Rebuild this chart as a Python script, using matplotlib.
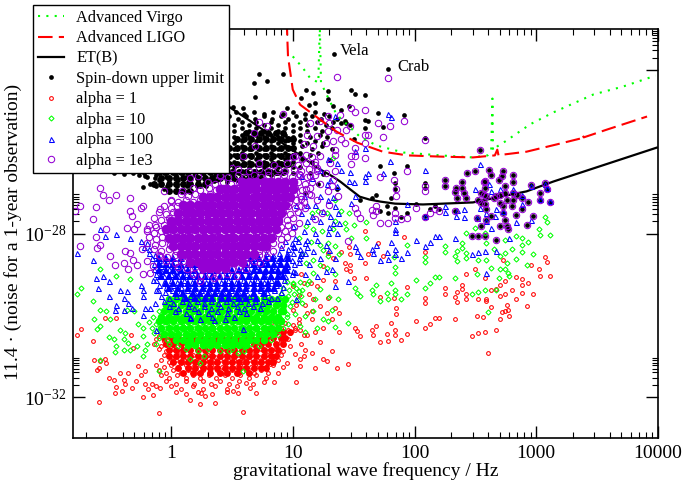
import matplotlib
matplotlib.use("Agg")
import matplotlib.pyplot as plt
from matplotlib.lines import Line2D
from matplotlib.ticker import FixedLocator, NullFormatter

plt.rcParams['font.family'] = ['Liberation Serif', 'DejaVu Serif']
plt.rcParams['mathtext.default'] = 'regular'

# All values are log10(frequency / Hz) and log10(amplitude).
# Dense clouds are stored as rows: (log10 h, [100*log10 f, ...]).
# The *_core rows stand for the parts of a cloud where the marks overlap into a solid area.
virgo = [(1.00,-23.67),(1.08,-23.94),(1.14,-24.19),(1.21,-24.31),(1.222,-22.9),(1.232,-24.31),(1.25,-24.43),(1.31,-24.8),(1.36,-25.09),(1.55,-25.63),(1.69,-25.85),(1.91,-26.02),(2.21,-26.09),(2.48,-26.14),(2.6,-26.09),(2.63,-25.97),(2.64,-24.7),(2.645,-25.97),(2.68,-25.87),(2.73,-25.78),(2.95,-25.33),(3.14,-25.04),(3.47,-24.6),(3.71,-24.41),(3.98,-24.14)]
ligo = [(.95,-22.8),(.961,-23.67),(1.00,-24.48),(1.06,-24.85),(1.20,-25.16),(1.36,-25.51),(1.53,-25.78),(1.74,-26.0),(1.94,-26.09),(2.21,-26.12),(2.48,-26.14),(2.66,-26.09),(2.68,-25.95),(2.69,-26.09),(2.73,-26.07),(2.92,-26.0),(3.17,-25.82),(3.36,-25.68),(3.38,-25.58),(3.39,-25.65),(3.58,-25.46),(3.91,-25.14)]
et = [(.16,-24.2),(.485,-24.92),(.632,-25.21),(.895,-25.75),(1.06,-26.09),(1.20,-26.39),(1.33,-26.61),(1.39,-26.73),(1.45,-26.87),(1.55,-27.1),(1.63,-27.17),(1.72,-27.22),(1.84,-27.27),(2.07,-27.29),(2.48,-27.24),(2.92,-26.97),(3.14,-26.73),(3.99,-25.9)]

msp = [(2.54,-25.95),(2.43,-26.53),(2.50,-26.48),(2.61,-26.45),(2.63,-26.58),(2.73,-26.48),(2.81,-26.56),(2.72,-26.60),(2.69,-26.68),(2.58,-26.72),(2.57,-26.75),(2.74,-26.84),(2.81,-26.74),(2.25,-26.70),(2.25,-26.84),(2.39,-26.75),(2.34,-26.88),(2.39,-26.88),(2.33,-26.99),(2.41,-27.01),(2.35,-27.14),(2.42,-27.13),(2.58,-26.88),(2.57,-27.05),(2.55,-27.01),(2.59,-27.09),(2.67,-27.09),(2.70,-27.05),(2.74,-27.01),(2.81,-27.01),(2.84,-27.05),(2.76,-27.17),(2.70,-27.25),(2.73,-27.33),(2.81,-27.17),(2.88,-27.13),(2.93,-27.23),(2.96,-26.82),(3.03,-27.01),(3.03,-27.17),(3.07,-26.76),(3.09,-26.91),(3.11,-27.23),(2.52,-27.17),(2.55,-27.25),(2.58,-27.29),(2.59,-27.41),(2.65,-27.13),(2.73,-27.49),(2.80,-27.32),(2.88,-27.41),(2.83,-27.54),(2.97,-27.58),(2.63,-27.56),(2.51,-27.63),(2.55,-27.82),(2.59,-27.66),(2.74,-27.66),(2.76,-27.82),(2.77,-27.90),(2.70,-27.82),(2.92,-27.80),(2.47,-28.07),(2.52,-28.05),(2.58,-28.07),(2.67,-28.15)]

black_sparse = [(1.34,-23.62),(1.78,-23.97),(.72,-24.11),(.79,-24.26),(.68,-24.32),(.92,-24.11),(.69,-24.66),(1.07,-24.68),(1.11,-24.48),(1.17,-24.56),(1.29,-24.52),(1.13,-24.85),(1.18,-24.8),(1.29,-24.72),(1.33,-24.89),(.51,-24.9),(.59,-24.93),(.95,-24.93),
(1.48,-24.48),(1.51,-24.6),(1.59,-24.62),(1.40,-24.97),(1.46,-24.89),(1.59,-25.23),(1.62,-25.25),(1.70,-25.05),(1.74,-25.39),(1.91,-25.11),(1.59,-25.42),(2.09,-25.66),(1.94,-26.34),(1.72,-26.35),(1.83,-26.52),(1.84,-26.76),(1.84,-26.92),(2.09,-26.76),(2.09,-26.88),(1.68,-27.05),(1.65,-27.13),(1.55,-27.17),(2.01,-27.27),(1.94,-27.5),(1.89,-27.59),(1.84,-27.37),(1.81,-27.13),(1.77,-27.33),(1.72,-27.45),(1.78,-27.5),(2.17,-27.33),(2.2,-27.4),(2.13,-27.41),(2.09,-27.58),(2.33,-27.45),(1.44,-25.3),(1.47,-25.34),(1.5,-25.7),(1.43,-25.25),(1.40,-25.3),
(-.47,-26.53),(-.39,-26.55),(-.31,-26.53),(-.21,-26.6),(-.13,-26.64),(-.23,-26.87),(-.17,-26.8),(-.12,-26.84),(-.06,-26.92),(-.02,-26.97),(.1,-26.93),(.24,-26.84),(.35,-26.72),(1.25,-26.55),(1.21,-26.8),(1.31,-26.2),(1.36,-26.9),(1.1,-27.0)]
black_rows = [
(-25.02,[53,68,84,100,118]),(-25.08,[60,76,92,110,126]),
(-25.13,[48,62,76,90,103,116,130]),(-25.19,[55,69,83,96,110,123,136]),
(-25.28,[46,58,70,82,94,106,120,133]),(-25.34,[52,64,76,88,100,112,127]),
(-25.43,[46,58,70,82,94,106,118,132]),(-25.49,[52,64,76,88,100,112,124]),
(-25.58,[46,58,70,82,94,106,122]),(-25.64,[52,64,76,88,100,114,128]),
(-25.73,[46,58,70,82,94,106,118]),(-25.79,[52,64,76,88,100,112,125]),
(-25.87,[46,58,70,82,94,108,124]),(-25.94,[52,64,76,88,100,116,132]),
(-26.02,[46,58,70,82,94,106,121]),(-26.08,[52,64,76,88,100,114]),
(-26.18,[46,58,70,82,94,108]),(-26.24,[52,64,76,88,100,116]),
(-26.33,[46,58,70,82,94]),(-26.38,[52,64,76,88,100,106]),
(-26.47,[-30,-14,2,18,34,46,58,70,82,94]),(-26.53,[-22,-6,10,26,40,52,64,76,88,100,114]),
(-26.58,[-26,-12,4,20,36,50,66,82]),(-26.63,[-20,-4,12,28,42,58,74]),
(-26.7,[-10,6,22,38,54]),(-26.75,[-2,14,30,46]),
(-26.85,[-3,5,13,21,29]),(-26.95,[6,14])]
black_core = [
(-25.55,[62,68,74,80,86,92]),
(-25.7,[54,60,66,72,78,84,90,96,100]),(-25.9,[48,54,60,66,72,78,84,90,96,100]),
(-26.1,[48,54,60,66,72,78,84,90,96,100]),(-26.3,[48,54,60,66,72,78,84,90,96]),
(-26.5,[-10,-4,2,8,14,20,26,32,38,44,50,56,62,68,74,80,86,92]),
(-26.65,[-8,-2,4,10,16,22,28,34,40,46,52,58,64,70]),
(-26.8,[-14,-8,-2,4,10,16,22,28]),(-26.95,[-2,4,10,16])]

red_sparse = [(3.07,-28.58),(3.09,-28.7),(3.02,-28.88),(3.03,-29.03),(3.11,-29.03),(2.96,-28.76),(2.93,-29.21),(2.88,-29.11),(2.88,-29.27),(2.88,-29.45),(2.97,-29.49),(2.92,-29.78),(2.80,-29.37),(2.83,-29.6),(2.83,-29.06),(2.74,-29.17),(2.74,-29.49),(2.70,-29.27),(2.70,-29.53),(2.63,-29.37),(2.67,-29.35),(2.76,-29.74),(2.74,-29.9),(2.77,-29.86),(2.78,-30.02),(2.72,-29.92),(2.70,-30.09),(2.63,-29.8),(2.59,-29.6),(2.59,-29.66),(2.52,-29.6),(2.50,-28.88),(2.42,-28.99),(2.39,-29.25),(2.39,-29.35),(2.42,-29.48),(2.42,-29.59),(2.35,-29.43),(2.33,-29.55),(2.35,-29.67),(2.25,-29.33),(2.25,-29.47),(2.09,-29.57),(2.09,-29.7),(1.94,-29.31),(1.83,-29.58),(1.85,-29.82),(1.85,-29.97),(2.01,-30.15),(2.13,-30.21),(2.17,-30.06),(2.20,-30.07),(2.33,-30.1),(2.09,-30.32),(1.94,-30.46),(1.89,-30.61),(1.84,-30.37),(1.84,-30.47),(1.81,-30.2),(1.77,-30.45),(1.78,-30.63),(1.72,-30.66),(1.68,-30.27),(1.65,-30.37),(1.66,-30.49),(1.55,-30.51),(1.51,-30.31),(1.53,-30.39),(1.45,-31.19),(2.47,-30.5),(2.52,-30.43),(2.58,-30.4),(2.67,-30.37),(2.60,-30.92),(2.51,-30.01),(2.56,-30.04),(1.91,-28.09),(1.59,-27.93),(1.70,-28.23),(1.74,-28.55),(1.60,-29.1),(1.72,-29.55),(1.50,-29.1),(1.43,-28.72),(1.47,-28.76),(1.40,-28.46),(1.46,-28.33),(1.47,-28.5),(1.44,-28.88),(1.47,-28.92),(1.59,-28.72),(1.62,-28.51),(2.09,-28.46),(2.58,-29.08),(2.73,-28.64),
(1.33,-28.6),(1.29,-28.47),(1.09,-29.21),(1.0,-29.29),(1.2,-29.29),(1.25,-29.13),(1.13,-29.49),(1.17,-29.61),(1.22,-29.78),(1.29,-29.57),(1.1,-29.74),(1.16,-29.9),(1.0,-29.86),(1.03,-29.74),(1.05,-30.1),(1.16,-30.1),(1.09,-30.47),(1.12,-30.49),(1.32,-30.88),(1.25,-31.08),(1.28,-31.12),(1.36,-31.28),(1.09,-31),(1.16,-30.92),(1.06,-31.08),(1.06,-31.24),(1.03,-31.63),(1.35,-29.82),
(1.05,-29.5),(1.12,-29.95),(1.02,-30.35),(1.07,-30.7),(1.18,-30.4),(1.25,-30.3),(1.32,-30.1),(1.22,-30.65),(1.38,-29.95),(1.28,-29.95),(1.38,-30.4),(1.15,-29.2),(1.35,-29.15),(1.07,-29.0),(1.25,-28.8),(1.18,-31.3),(1.02,-30.95),(1.1,-30.85),
(-.77,-30.49),(-.74,-30.33),(-.64,-30.63),(-.63,-31.1),(-.58,-31.12),(-.54,-31.08),(-.53,-31.16),(-.59,-31.28),(-.61,-31.34),(-.45,-30.06),(-.54,-30.06),(-.33,-30.47),(-.51,-31.53),(-.47,-31.59),(-.42,-31.41),(-.35,-31.42),(-.39,-31.57),(-.38,-31.69),(-.29,-31.61),(-.32,-31.77),(-.45,-31.75),(-.46,-31.9),(-.4,-31.85),(-.59,-32.12),(-.27,-31.23),(-.25,-31.45),(-.21,-31.37),(-.21,-31.69),(-.23,-32),(-.16,-31.69),(-.19,-31.81),(-.12,-31.73),(-.09,-31.77),(-.15,-31.94),(-.1,-32.38),(.59,-32.36),(.16,-32.08),(.24,-32.16),(.25,-31.91),(.28,-31.98),(.36,-32.14),(.46,-31.88),(.51,-31.85),(.55,-31.9),(.7,-31.9),(.65,-31.77),(.62,-31.65),(.76,-31.63),(.85,-31.64),(.88,-31.41),(.81,-31.2),(.95,-31.16),(-.31,-30.8)]
red_rows = [
(-30.18,[82,94,105]),(-30.24,[88,100]),
(-30.31,[78,90,102]),(-30.37,[84,96,106]),
(-30.44,[74,86,98]),(-30.5,[-10,80,92]),
(-30.57,[-12,72,84,96]),(-30.63,[-6,78,90]),
(-30.7,[-14,-2,68,80,92]),(-30.75,[-8,74,86,98]),
(-30.83,[-10,2,14,62,74,86]),(-30.88,[-4,8,68,80,92]),
(-30.96,[-6,6,18,30,42,54,66,78,90]),(-31.01,[0,12,24,36,48,60,72,84]),
(-31.09,[-8,4,16,28,40,52,64,76,88]),(-31.14,[-2,10,22,34,46,58,70,82]),
(-31.21,[-12,0,12,24,36,48,60,72,84]),(-31.27,[-6,6,18,30,42,54,66,78,92]),
(-31.34,[-10,2,14,26,38,50,62,74]),(-31.4,[-4,8,20,32,44,56,68,80]),
(-31.46,[-8,5,18,31,44,57,70]),(-31.54,[-2,12,24,37,50,64,78]),
(-31.6,[-4,12,26,40,56]),(-31.67,[4,19,33,48,67]),
(-31.73,[0,18,36,54]),(-31.8,[8,26,46]),
(-31.87,[4,22]),(-31.92,[12,34])]
red_core = [
(-30.4,[80,86,92,98]),
(-30.55,[-6,0,6,12,18,24,30,36,42,48,54,60,66,72,78,84,90,94]),
(-30.7,[-4,2,8,14,20,26,32,38,44,50,56,62,68,74,80,86,92]),
(-30.85,[-2,4,10,16,22,28,34,40,46,52,58,64,70,76,82,88]),
(-31.0,[-2,4,10,16,22,28,34,40,46,52,58,64,70,76,82,86]),
(-31.15,[2,8,14,20,26,32,38,44,50,56,62,68,74,80,84]),
(-31.28,[6,14,20,26,32,38,44,50,56,62,68,74,78]),
(-31.42,[10,18,24,32,40,46,54,64])]

green_sparse = [(3.07,-27.59),(3.09,-27.72),(3.02,-27.89),(3.03,-28.03),(3.11,-28.03),(2.93,-28.2),(2.88,-28.11),(2.88,-28.27),(2.88,-28.45),(2.97,-28.5),(2.92,-28.78),(2.80,-28.39),(2.83,-28.62),(2.83,-28.07),(2.74,-28.15),(2.74,-28.47),(2.70,-28.56),(2.76,-28.72),(2.74,-28.88),(2.77,-28.96),(2.78,-29.04),(2.70,-28.88),(2.63,-28.84),(2.69,-29.08),(2.65,-28.39),(2.59,-28.23),(2.58,-27.98),(2.50,-27.86),(2.42,-27.98),(2.39,-28.23),(2.39,-28.35),(2.42,-28.47),(2.42,-28.6),(2.35,-28.42),(2.33,-28.55),(2.35,-28.68),(2.25,-28.31),(2.25,-28.46),(2.09,-28.57),(2.09,-28.69),(1.94,-28.29),(1.83,-28.57),(1.84,-28.82),(1.84,-28.96),(2.01,-29.14),(2.13,-29.21),(2.17,-29.06),(2.20,-29.07),(2.33,-29.1),(2.09,-29.33),(1.94,-29.47),(1.89,-29.6),(1.84,-29.37),(1.84,-29.48),(1.81,-29.21),(1.77,-29.45),(1.78,-29.61),(1.72,-29.65),(1.68,-29.26),(1.65,-29.37),(1.66,-29.48),(1.55,-29.53),(1.51,-29.33),(1.53,-29.45),(1.45,-30.19),(2.47,-29.49),(2.52,-29.44),(2.58,-29.39),(2.67,-29.37),(2.60,-29.92),(2.51,-29.0),(2.52,-28.64),(2.59,-28.64),(1.60,-27.72),(1.60,-28.11),(1.50,-27.78),(1.43,-27.74),(1.46,-27.5),(1.40,-27.45),(1.48,-28.11),(1.44,-27.9),
(-.77,-29.49),(-.74,-29.33),(-.64,-29.64),(-.63,-30.09),(-.58,-29.87),(-.53,-29.9),(-.58,-30.25),(-.61,-30.33),(-.5,-30.1),(-.45,-29.04),(-.58,-28.88),(-.34,-29.12),(-.36,-29.86),(-.3,-29.9),(-.27,-30.22),(-.42,-30.35),(-.38,-30.43),(-.51,-30.53),(-.47,-30.57),(-.39,-30.59),(-.45,-30.75),(-.46,-30.89),(-.39,-30.84),(-.35,-30.67),(-.28,-30.75),(-.34,-30.84),(-.58,-31.1),(-.23,-31),(-.2,-30.71),(-.21,-30.84),(-.12,-30.71),(-.1,-31.37),(.24,-31.16),(.16,-31.08),(.27,-31),(.36,-30.71),(.48,-30.88),(.59,-31.37),(.55,-30.92),(-.23,-30.31),(-.23,-30.51),
(1.05,-28.1),(1.15,-28.2),(1.25,-28.4),(1.38,-28.5),(1.08,-28.5),(1.28,-28.85),(1.35,-29.0),(1.05,-29.4),(1.13,-29.15),(1.22,-29.35),(1.3,-29.55),(1.08,-29.7),(1.18,-29.6),(1.37,-29.6),(1.1,-30.4),(1.2,-30.3),
(1.32,-29.87),(1.25,-30.09),(1.35,-30.28),(1.29,-30.14),(1.06,-30.25),(1.1,-30.02),(1.02,-29.98),(1.17,-29.9),(1.35,-28.31),(1.22,-28.27),(1.29,-28.23),(1.17,-28.64),(1.11,-28.72),(1.22,-28.76),(1.17,-28.96),(1.0,-29.21),(1.29,-28.55),(1.21,-27.45),(1.16,-27.49),(1.11,-27.82),(1.17,-27.9),(1.24,-27.94),(1.33,-27.9),(1.35,-27.7),(1.33,-26.15),(1.35,-27.17),(1.28,-27.49)]
green_rows = [
(-29.18,[95,106]),(-29.23,[100,112]),
(-29.33,[92,103]),(-29.38,[97,108]),
(-29.48,[90,101]),(-29.53,[96,107]),
(-29.63,[82,93,104]),(-29.68,[88,99]),
(-29.78,[76,87,98]),(-29.83,[81,92]),
(-29.9,[-10,70,80,90]),(-29.96,[75,85,95]),
(-30.04,[-15,-3,9,62,73,84,95]),(-30.09,[-9,3,56,68,78,90]),
(-30.17,[-18,-6,6,18,30,42,54,66,78,90]),(-30.22,[-12,0,12,24,36,48,60,72,84,96]),
(-30.3,[-16,-4,8,20,32,44,56,68,80,92]),(-30.35,[-10,2,14,26,38,50,62,74,86]),
(-30.43,[-14,-2,10,22,34,46,58,70,82]),(-30.48,[-8,4,16,28,40,52,64,76,88]),
(-30.56,[-10,4,16,28,40,52,64,76]),(-30.61,[-3,10,22,34,46,58,70,82]),
(-30.69,[-2,14,27,40,53,66]),(-30.74,[6,20,33,46,59,72]),
(-30.82,[12,30,50]),(-30.87,[22,40,60])]
green_core = [
(-29.6,[-2,4,10,16,22,28,34,40,46,52,58,64,70,76,82,88,94]),
(-29.75,[-4,2,8,14,20,26,32,38,44,50,56,62,68,74,80,86,92]),
(-29.9,[-6,0,6,12,18,24,30,36,42,48,54,60,66,72,78,84,90,92]),
(-30.03,[-8,-2,4,10,16,22,28,34,40,46,52,58,64,70,76,82,88]),
(-30.15,[-10,-4,2,8,14,20,26,32,38,44,50,56,62,68,74,80,86,90]),
(-30.3,[-8,-2,4,10,16,22,28,34,40,46,52,58,64,70,76,82,88]),
(-30.45,[-6,0,6,12,18,24,30,36,42,48,54,60,66,72,78,84]),
(-30.6,[4,10,16,22,28,34,40,46,52,58,64,70,76]),
(-30.72,[14,20,26,32,38,44,50,56,62])]

blue_sparse = [(2.54,-26.31),(2.50,-26.90),(2.61,-26.78),(2.63,-26.97),(2.70,-26.92),(2.81,-26.91),(2.88,-27.29),(2.96,-27.66),(3.03,-27.15),(3.09,-26.88),(3.11,-27.21),(2.96,-26.85),(3.07,-26.8),(2.67,-27.41),(2.59,-27.49),(2.54,-27.37),(2.66,-27.58),(2.51,-27.62),(2.59,-27.70),(2.63,-27.86),(2.73,-27.45),(2.83,-27.72),(2.88,-27.05),(2.34,-27.56),(2.35,-27.43),(2.41,-27.41),(2.41,-27.59),(2.25,-27.33),(2.25,-27.48),(1.94,-27.29),(1.80,-26.23),(1.78,-25.07),(1.81,-25.15),(2.09,-26.45),(1.59,-26.6),(1.62,-26.52),(1.59,-26.72),(1.74,-26.52),(1.40,-26.45),(1.47,-26.5),(1.46,-26.72),(1.50,-26.75),(1.51,-25.99),(1.59,-25.9),(2.09,-27.58),(1.84,-27.90),(1.84,-27.7),(1.51,-27.09),(1.48,-27.25),
(2.01,-28.15),(2.17,-28.05),(2.20,-28.05),(2.33,-28.11),(2.13,-28.2),(2.09,-28.31),(1.94,-28.46),(1.89,-28.6),(1.84,-28.39),(1.84,-28.49),(1.81,-28.2),(1.77,-28.46),(1.78,-28.62),(1.72,-28.64),(1.68,-28.27),(1.65,-28.38),(1.66,-28.47),(1.55,-28.55),(1.51,-28.31),(1.53,-28.43),(1.45,-29.17),(2.47,-28.51),(2.52,-28.46),(2.58,-28.43),(2.67,-28.43),(2.78,-28.11),(2.59,-28.96),(1.84,-27.97),
(-.77,-28.47),(-.64,-28.64),(-.62,-29.08),(-.6,-29.33),(-.56,-29.04),(-.51,-29.17),(-.42,-29.37),(-.36,-29.41),(-.51,-29.53),(-.39,-29.57),(-.45,-29.74),(-.46,-29.88),(-.39,-29.86),(-.35,-29.7),(-.32,-29.82),(-.23,-29.37),(-.25,-29.25),(-.23,-29.53),(-.21,-29.82),(-.23,-30),(-.13,-29.7),(-.17,-29.82),(-.12,-29.37),(-.145,-29.13),(-.12,-30.36),(.16,-30.06),(.35,-30.12),(.59,-30.33),(1.03,-29.61),(1.35,-29.29),(-.58,-27.89),(-.45,-28.02),(-.34,-28.1),(-.54,-28.05),
(1.03,-27.3),(1.12,-27.3),(1.18,-27.3),(1.25,-27.45),(1.33,-27.1),(1.12,-27.7),(1.02,-28.1),(1.12,-28.15),(1.2,-28.15),(1.3,-28.4),(1.05,-28.7),(1.13,-28.75),(1.22,-28.6),(1.02,-28.95),(1.1,-29),(1.2,-29.05),(1.35,-28.6),(1.3,-27.85),(1.38,-27.75),
(1.35,-25.13),(1.29,-26.17),(1.36,-26.27),(1.22,-26.44),(1.16,-26.64),(1.31,-26.68),(1.36,-26.84),(1.28,-26.8),(1.07,-26.6),(1.0,-26.92),(1.09,-27.09),(1.22,-27.09),(1.29,-27.17),(1.35,-27.33),(1.07,-27.5),(1.16,-27.58),(1.22,-27.7),(1.31,-27.58),(1.37,-27.5),(1.0,-27.82),(1.09,-27.94),(1.18,-27.98),(1.33,-27.74),(1.29,-27.98),(1.36,-27.98),(1.1,-28.47),(1.07,-28.47),(1.17,-28.43),(1.27,-28.27),(1.32,-28.88),(1.27,-28.92),(1.0,-28.31),(.95,-28.47)]
blue_rows = [
(-28.18,[-25,94,104]),(-28.23,[-20,99,110]),
(-28.33,[-22,90,101,112]),(-28.38,[-18,96,106]),
(-28.48,[-18,78,89,100]),(-28.53,[-13,84,95,106]),
(-28.6,[-16,-5,70,82,94,105]),(-28.66,[-10,76,88,99]),
(-28.74,[-14,-2,65,77,89,101]),(-28.79,[-8,4,71,83,95]),
(-28.87,[-14,-2,10,58,70,82,94]),(-28.92,[-8,4,64,76,88,100]),
(-29.0,[-12,0,12,52,64,76,88,99]),(-29.05,[-6,6,18,58,70,82,94]),
(-29.13,[-12,0,11,23,35,47,59,71,82,93]),(-29.18,[-6,5,17,29,41,53,65,76,88]),
(-29.26,[-10,2,14,26,38,50,62,74,86]),(-29.31,[-4,8,20,32,44,56,68,80,92]),
(-29.39,[-11,1,13,25,37,49,61,73,85]),(-29.44,[-5,7,19,31,43,55,67,79,90]),
(-29.52,[-8,4,16,28,40,52,64,76]),(-29.57,[-2,10,22,34,46,58,70,82,87]),
(-29.65,[-6,9,21,33,45,57,69,80]),(-29.7,[2,15,27,39,51,63,75]),
(-29.78,[-2,14,27,40,54,67]),(-29.83,[6,19,33,47,60,73]),
(-29.9,[3,22,38,56]),(-29.95,[12,30,46,62]),
(-30.03,[16,34,52]),(-30.08,[24,44])]
blue_core = [
(-28.6,[-10,-4,2,8,66,72,78,84,90,96]),
(-28.75,[-10,-4,2,8,14,20,62,68,75,80,85,90,95]),
(-28.9,[-10,-4,2,8,14,20,26,32,38,44,50,56,62,68,73,78,83,88,93,95]),
(-29.05,[-8,-2,4,10,16,22,28,34,40,46,52,58,64,70,76,82,88,92]),
(-29.2,[-4,2,8,14,20,26,32,38,44,50,56,62,68,74,80,86,88]),
(-29.33,[-2,6,14,20,26,32,38,44,50,56,62,68,74,80,85]),
(-29.45,[4,10,18,24,30,36,42,48,54,60,68,76]),
(-29.58,[12,20,28,34,42,48,56,62,70])]

purple_sparse = [(1.78,-24.2),(1.36,-24.17),(1.48,-24.93),(1.51,-25.03),(1.59,-24.97),(1.70,-25.31),(1.80,-25.36),(1.91,-25.25),(1.62,-25.58),(1.59,-25.58),(1.74,-25.64),(2.09,-25.72),(1.94,-26.48),(1.72,-26.62),(1.83,-26.7),(1.85,-26.92),(2.09,-26.84),(2.09,-26.96),(1.85,-27.09),(2.01,-27.37),(1.94,-27.63),(1.89,-27.64),(1.84,-27.5),(1.84,-27.62),(1.68,-27.32),(1.68,-27.45),(1.65,-27.43),(1.72,-27.74),(1.78,-27.74),(1.66,-27.54),(1.55,-27.62),(1.51,-27.37),(1.53,-27.49),(2.13,-27.5),(2.17,-27.4),(2.2,-27.44),(2.09,-27.59),(2.33,-27.45),(1.47,-25.38),(1.44,-25.46),(1.40,-25.7),(1.43,-25.78),(1.51,-25.9),(1.48,-26.11),(1.51,-26.11),(1.48,-26.3),(1.59,-25.78),(1.59,-26.15),(1.45,-28.19),
(.92,-25.07),(.72,-25.28),(.79,-25.36),(.68,-25.54),(.69,-25.87),(.59,-26.11),(.50,-26.4),(.40,-26.6),(.22,-26.6),(.16,-26.64),(-.58,-26.88),(-.56,-27.07),(-.51,-27.19),(-.45,-27.05),(-.34,-27.13),(-.23,-27.32),(-.25,-27.37),(-.75,-27.33),(-.79,-27.45),(-.62,-27.35),(-.64,-27.64),(-.34,-27.45),(-.32,-27.58),(-.36,-27.86),(-.28,-27.76),(-.30,-27.9),(-.2,-27.9),(-.13,-27.78),(-.53,-27.9),(-.62,-28.08),(0,-27.21),(-.06,-26.97),(.09,-26.97),(-.09,-27.41),
(-.75,-28.31),(-.58,-28.27),(-.61,-28.35),(-.5,-28.55),(-.46,-28.76),(-.39,-28.72),(-.38,-28.43),(-.34,-28.47),(-.28,-28.76),(-.31,-28.64),(-.23,-29),(-.17,-28.96),(-.145,-28.8),(-.24,-28.39),(-.2,-28.68),(-.09,-28.55),(-.35,-28.88),(.35,-29.1),(.24,-29.17),
(1.02,-26.1),(1.05,-26.55),(1.12,-25.6),(1.18,-26.25),(1.3,-25.3),(1.32,-26.85),(1.07,-27.15),(1.15,-27.05),(1.3,-27.3),(1.18,-27.65),(1.05,-27.75),(1.35,-25.95),(1.39,-25.1),
(1.29,-25.13),(1.22,-25.25),(1.14,-25.3),(1.36,-25.46),(1.29,-25.5),(1.2,-25.62),(1.09,-25.82),(1.17,-25.87),(1.27,-25.78),(1.33,-25.74),(1.11,-26.07),(1.22,-26.11),(1.35,-26.07),(1.31,-26.27),(1.2,-26.4),(1.27,-26.52),(1.35,-26.48),(1.14,-26.6),(1.33,-26.68),(1.22,-26.8),(1.11,-26.92),(1.29,-26.97),(1.37,-27.09),(1.2,-27.17),(1.1,-27.37),(1.24,-27.5)]
purple_rows = [
(-26.13,[100,116]),(-26.18,[108]),
(-26.28,[72,95,111]),(-26.33,[85,104,118]),
(-26.43,[55,72,88,101,113]),(-26.48,[64,80,94,107,120]),
(-26.58,[40,55,68,80,93,106,118]),(-26.63,[47,61,74,87,99,112]),
(-26.73,[30,43,56,67,79,92,104,116]),(-26.78,[36,49,62,73,85,98,110]),
(-26.88,[18,31,43,55,67,78,90,102,114]),(-26.93,[24,37,49,61,72,84,96,108]),
(-27.03,[8,20,32,44,55,66,78,89,101,113]),(-27.08,[14,26,38,50,61,72,83,95,107]),
(-27.18,[0,12,24,35,46,58,69,80,91,103]),(-27.23,[6,18,29,41,52,63,74,86,97,109]),
(-27.33,[-6,5,17,28,40,51,62,73,85,96,107]),(-27.38,[0,11,23,34,45,57,68,79,90,102]),
(-27.48,[-10,2,13,25,36,47,59,70,81,92,104]),(-27.53,[-4,8,19,30,42,53,64,76,87,98]),
(-27.63,[-14,-2,10,21,33,44,55,67,78,89,100]),(-27.68,[-8,4,16,27,38,50,61,72,83,95]),
(-27.78,[-18,-6,6,17,28,40,51,62,74,85,96]),(-27.83,[-12,0,11,23,34,45,57,68,79,90,101]),
(-27.93,[-20,-8,3,14,26,37,48,60,71,82,94]),(-27.98,[-14,-3,9,20,31,43,54,65,77,88,99]),
(-28.08,[-18,-7,5,16,27,39,50,61,73,84,95]),(-28.13,[-12,-1,10,22,33,44,56,67,78,90]),
(-28.23,[-20,-7,5,16,28,39,50,62,73,84]),(-28.28,[-13,-1,11,22,33,45,56,67,79,90]),
(-28.38,[-14,-2,10,21,32,44,55,66,78]),(-28.43,[-8,4,15,27,38,49,61,72,84]),
(-28.53,[-10,3,15,26,38,49,60,72]),(-28.58,[-3,9,21,32,43,55,66,79]),
(-28.68,[-4,10,22,33,45,56,68]),(-28.73,[3,16,28,39,50,62,73]),
(-28.83,[6,20,32,44,56]),(-28.88,[13,26,38,50,62]),
(-28.98,[18,32,46]),(-29.03,[25,39,54])]
purple_core = [
(-26.75,[58,64,70,76,82,88,94,100]),
(-26.9,[40,46,52,58,64,70,76,82,88,94,100]),
(-27.1,[26,32,38,44,50,56,62,68,74,80,86,92,98]),
(-27.3,[10,16,22,28,34,40,46,52,58,64,70,76,82,88,94]),
(-27.5,[6,12,18,24,30,36,42,48,54,60,66,72,78,84,90]),
(-27.7,[0,6,12,18,24,30,36,42,48,54,60,66,72,78,84,88]),
(-27.9,[-4,2,8,14,20,26,32,38,44,50,56,62,68,74,80,86]),
(-28.1,[-2,4,10,16,22,28,34,40,46,52,58,64,70,76,82]),
(-28.3,[2,8,14,20,26,32,38,44,50,56,62,68,74,78]),
(-28.5,[8,14,20,26,32,38,44,50,56,62,68]),
(-28.7,[16,22,28,34,40,46,52,58]),
(-28.85,[26,32,38,44])]

x_ticks = [1, 10, 100, 1000, 10000]
x_labels = ['1', '10', '100', '1000', '10000']
y_exps = [-32, -28, -24]
y_labels = [r'$10^{-32}$', r'$10^{-28}$', '']


def unpack(pairs):
    return [10 ** p[0] for p in pairs], [10 ** p[1] for p in pairs]


def expand(rows, sparse=()):
    pts = [(v / 100, h) for h, vals in rows for v in vals] + list(sparse)
    return unpack(pts)


fig = plt.figure(figsize=(6.85, 4.82), dpi=100)
ax = fig.add_axes([73 / 685, 44 / 482, 585 / 685, 409 / 482])
ax.set_xscale('log')
ax.set_yscale('log')
ax.set_xlim(10 ** -0.805, 1e4)
ax.set_ylim(1e-33, 1e-23)

BLACK, RED, GREEN, BLUE, PURPLE = 'k', '#ff0000', '#00ff00', '#0000ff', '#9400d3'
x, y = unpack(et)
ax.plot(x, y, color='k', lw=1.6, zorder=2)

styles = dict(ls='none', mfc='none')
x, y = expand(black_rows, black_sparse + msp)
ax.plot(x, y, 'o', color=BLACK, ms=3.4, mew=0, zorder=3)
x, y = expand(black_core)
ax.plot(x, y, 'o', color=BLACK, ms=5, mew=0, zorder=3)

x, y = expand(red_core)
ax.plot(x, y, 'o', color=RED, ms=5, mew=0, zorder=4)
x, y = expand(red_rows, red_sparse)
ax.plot(x, y, marker='o', color=RED, ms=2.7, mew=0.75, zorder=4, **styles)

x, y = expand(green_core)
ax.plot(x, y, 'o', color=GREEN, ms=5.5, mew=0, zorder=5)
x, y = expand(green_rows, green_sparse)
ax.plot(x, y, marker='D', color=GREEN, ms=2.6, mew=0.75, zorder=5, **styles)

x, y = expand(blue_core)
ax.plot(x, y, '^', color=BLUE, ms=6, mew=0, zorder=6)
x, y = expand(blue_rows, blue_sparse)
ax.plot(x, y, marker='^', color=BLUE, ms=3.6, mew=0.75, zorder=6, **styles)

x, y = expand(purple_core)
ax.plot(x, y, 'o', color=PURPLE, ms=7, mew=0, zorder=7)
x, y = expand(purple_rows, purple_sparse + msp)
ax.plot(x, y, marker='o', color=PURPLE, ms=4.6, mew=0.75, zorder=7, **styles)

x, y = unpack(virgo)
ax.plot(x, y, color=GREEN, lw=1.5, ls=(0, (1, 3)), zorder=8)
x, y = unpack(ligo)
ax.plot(x, y, color=RED, lw=1.5, ls=(0, (7, 3)), zorder=8)

ax.text(10 ** 1.39, 10 ** -23.55, 'Vela', fontsize=12, va='center', zorder=9)
ax.text(10 ** 1.856, 10 ** -23.94, 'Crab', fontsize=12, va='center', zorder=9)

ax.xaxis.set_major_locator(FixedLocator(x_ticks))
ax.set_xticklabels(x_labels)
ax.xaxis.set_minor_locator(FixedLocator([m * 10 ** e for e in range(-1, 4) for m in range(2, 10)]))
ax.xaxis.set_minor_formatter(NullFormatter())
ax.yaxis.set_major_locator(FixedLocator([10.0 ** e for e in y_exps]))
ax.set_yticklabels(y_labels)
ax.yaxis.set_minor_locator(FixedLocator([m * 10.0 ** e for e in y_exps for m in range(2, 10)]))
ax.yaxis.set_minor_formatter(NullFormatter())
ax.tick_params(which='major', direction='in', length=8.5, width=1, top=True, right=True, labelsize=14, pad=5)
ax.tick_params(which='minor', direction='in', length=4.3, width=0.8, top=True, right=True)
for s in ax.spines.values():
    s.set_linewidth(1.2)
    s.set_zorder(10)

ax.set_xlabel('gravitational wave frequency / Hz', fontsize=14, labelpad=0)
fig.text(13 / 685, (482 - 232) / 482, '11.4 · (noise for a 1-year observation)', rotation=90,
         fontsize=14, va='center', ha='center')

handles = [
    Line2D([], [], color=GREEN, lw=1.5, ls=(0, (1, 3))),
    Line2D([], [], color=RED, lw=1.5, ls=(0, (7, 3))),
    Line2D([], [], color='k', lw=1.6),
    Line2D([], [], marker='o', color='k', ms=3.4, mew=0, ls='none'),
    Line2D([], [], marker='o', color=RED, mfc='none', ms=2.7, mew=0.75, ls='none'),
    Line2D([], [], marker='D', color=GREEN, mfc='none', ms=2.6, mew=0.75, ls='none'),
    Line2D([], [], marker='^', color=BLUE, mfc='none', ms=3.6, mew=0.75, ls='none'),
    Line2D([], [], marker='o', color=PURPLE, mfc='none', ms=4.6, mew=0.75, ls='none'),
]
names = ['Advanced Virgo', 'Advanced LIGO', 'ET(B)', 'Spin-down upper limit',
         'alpha = 1', 'alpha = 10', 'alpha = 100', 'alpha = 1e3']
leg = ax.legend(handles, names, loc='upper left', bbox_to_anchor=(33 / 685, 1 - 5 / 482),
                bbox_transform=fig.transFigure, fontsize=11.7, frameon=True, fancybox=False,
                framealpha=1, edgecolor='k', borderaxespad=0, borderpad=0.3, labelspacing=0.27,
                handlelength=1.6, handletextpad=0.75)
leg.get_frame().set_linewidth(1.0)
leg.set_zorder(20)

fig.savefig('out.png', dpi=100)
